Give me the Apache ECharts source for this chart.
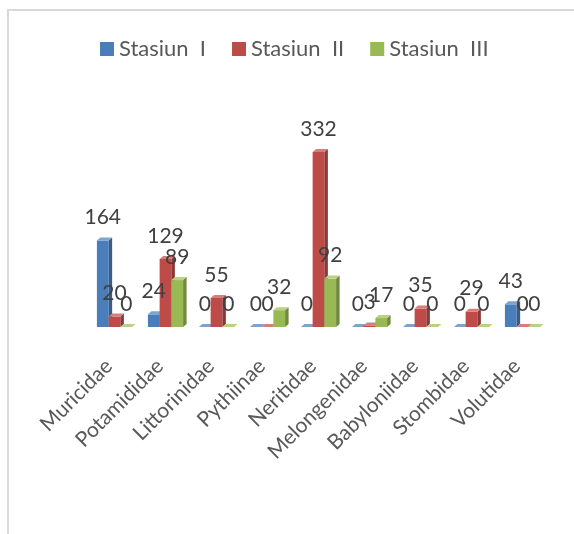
<!DOCTYPE html>
<html>
<head>
<meta charset="utf-8">
<script src="https://cdn.jsdelivr.net/npm/echarts@6/dist/echarts.min.js"></script>
<style>
html,body{margin:0;padding:0;background:#fff;}
#chart{width:574px;height:534px;}
</style>
</head>
<body>
<div id="chart"></div>
<script>
const categories = ['Muricidae','Potamididae','Littorinidae','Pythiinae','Neritidae','Melongenidae','Babyloniidae','Stombidae','Volutidae'];
const seriesNames = ['Stasiun  I','Stasiun  II','Stasiun  III'];
const stasiunI   = [164, 24, 0, 0, 0, 0, 0, 0, 43];
const stasiunII  = [20, 129, 55, 0, 332, 3, 35, 29, 0];
const stasiunIII = [0, 89, 0, 32, 92, 17, 0, 0, 0];
const seriesValues = [stasiunI, stasiunII, stasiunIII];

const colors = [
  {front:'#4A7EBB', side:'#385D8A', top:'#7FA3D0'},
  {front:'#BE4B48', side:'#8C3836', top:'#D57E7C'},
  {front:'#98B954', side:'#71893F', top:'#B9D185'}
];
const DX = 3.5, DY = 3, GROUP = 0.69;

function geom(s, params, api){
  const idx = api.value(0), val = api.value(1);
  const band = api.size([1,0])[0];
  const groupW = band*GROUP, w = groupW/3;
  const c = api.coord([idx, 0]);
  const t = api.coord([idx, val]);
  const x0 = c[0] - groupW/2 + s*w;
  return {x0, w, yb:c[1], yt:t[1], val};
}

function barRenderer(s){
  return function(params, api){
    const g = geom(s, params, api);
    const col = colors[s];
    const children = [];
    if (g.yb - g.yt > 0.01) {
      children.push({type:'rect', shape:{x:g.x0, y:g.yt, width:g.w, height:g.yb-g.yt}, style:{fill:col.front}});
    }
    children.push({type:'polygon', shape:{points:[[g.x0+g.w,g.yt],[g.x0+g.w+DX,g.yt-DY],[g.x0+g.w+DX,g.yb-DY],[g.x0+g.w,g.yb]]}, style:{fill:col.side}});
    children.push({type:'polygon', shape:{points:[[g.x0,g.yt],[g.x0+DX,g.yt-DY],[g.x0+g.w+DX,g.yt-DY],[g.x0+g.w,g.yt]]}, style:{fill:col.top}});
    return {type:'group', children};
  };
}
function labelRenderer(s){
  return function(params, api){
    const g = geom(s, params, api);
    return {type:'text', x:g.x0+g.w/2, y:g.yt-23, style:{text:String(g.val), align:'center', verticalAlign:'middle', fill:'#404040', font:'21px Lato'}};
  };
}

const series = [];
seriesValues.forEach((vals, s) => {
  series.push({
    name: seriesNames[s], type:'custom', clip:false, z:2,
    itemStyle:{color:colors[s].front},
    renderItem: barRenderer(s),
    data: vals.map((v,i)=>[i,v]),
    encode:{x:0,y:1}
  });
});
seriesValues.forEach((vals, s) => {
  series.push({
    name: 'lbl'+s, type:'custom', clip:false, z:5, silent:true,
    renderItem: labelRenderer(s),
    data: vals.map((v,i)=>[i,v]),
    encode:{x:0,y:1}
  });
});

const chart = echarts.init(document.getElementById('chart'), null, {renderer:'canvas'});
chart.setOption({
  animation:false,
  backgroundColor:'#ffffff',
  legend:{
    data: seriesNames.map((n,s)=>({name:n, icon:'rect', itemStyle:{color:colors[s].front}})),
    left:95, top:33, itemWidth:14, itemHeight:14, itemGap:26,
    textStyle:{fontFamily:'Lato', fontSize:22, color:'#595959'}
  },
  grid:{left:89, right:26, top:142.5, bottom:207},
  xAxis:{
    type:'category', data:categories, boundaryGap:true,
    axisLine:{show:false}, axisTick:{show:false}, splitLine:{show:false},
    axisLabel:{rotate:45, margin:30, interval:0, padding:[0,8,0,0], fontFamily:'Lato', fontSize:21, color:'#595959'}
  },
  yAxis:{type:'value', min:0, max:350, show:false, splitLine:{show:false}},
  graphic:[
    {type:'line', shape:{x1:7, y1:10, x2:574, y2:10}, style:{stroke:'#D9D9D9', lineWidth:2}},
    {type:'line', shape:{x1:8, y1:9, x2:8, y2:534}, style:{stroke:'#D9D9D9', lineWidth:2}}
  ],
  series
});
</script>
</body>
</html>
